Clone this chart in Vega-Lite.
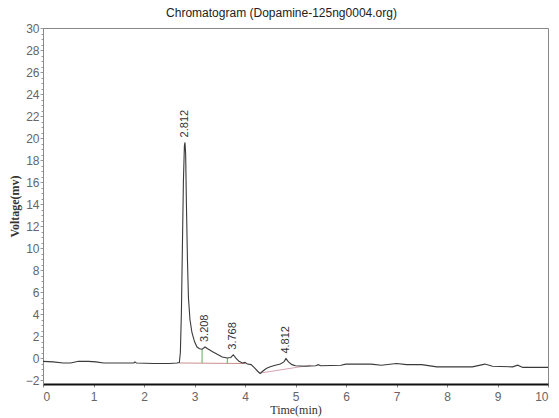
{
  "$schema": "https://vega.github.io/schema/vega-lite/v6.json",
  "autosize": "none",
  "width": 505,
  "height": 356,
  "padding": {"left": 43, "top": 28, "right": 11, "bottom": 34},
  "background": "white",
  "config": {
    "view": {"stroke": "#888888", "strokeWidth": 1},
    "font": "Liberation Sans"
  },
  "title": {
    "text": "Chromatogram (Dopamine-125ng0004.org)",
    "fontSize": 12,
    "fontWeight": "normal",
    "color": "#222222",
    "font": "Liberation Sans",
    "anchor": "middle",
    "dx": -14,
    "offset": 2
  },
  "datasets": {
    "signal": [
      {"t": 0, "v": -0.3}, {"t": 0.2, "v": -0.35}, {"t": 0.4, "v": -0.45}, {"t": 0.55, "v": -0.45},
      {"t": 0.7, "v": -0.3}, {"t": 0.9, "v": -0.3}, {"t": 1.05, "v": -0.35}, {"t": 1.2, "v": -0.45},
      {"t": 1.5, "v": -0.45}, {"t": 1.8, "v": -0.45}, {"t": 1.82, "v": -0.35}, {"t": 1.85, "v": -0.45},
      {"t": 2.2, "v": -0.5}, {"t": 2.5, "v": -0.5}, {"t": 2.65, "v": -0.45}, {"t": 2.7, "v": -0.4},
      {"t": 2.72, "v": 0.5}, {"t": 2.74, "v": 4}, {"t": 2.76, "v": 10}, {"t": 2.78, "v": 16},
      {"t": 2.8, "v": 19.3}, {"t": 2.812, "v": 19.6}, {"t": 2.825, "v": 18.5}, {"t": 2.84, "v": 14},
      {"t": 2.86, "v": 9}, {"t": 2.88, "v": 5.5}, {"t": 2.91, "v": 3.5}, {"t": 2.95, "v": 2.3},
      {"t": 3.0, "v": 1.5}, {"t": 3.05, "v": 1.0}, {"t": 3.1, "v": 0.85}, {"t": 3.15, "v": 0.8},
      {"t": 3.208, "v": 1.0}, {"t": 3.26, "v": 0.85}, {"t": 3.35, "v": 0.6}, {"t": 3.45, "v": 0.35},
      {"t": 3.55, "v": 0.1}, {"t": 3.65, "v": 0.0}, {"t": 3.72, "v": 0.05}, {"t": 3.768, "v": 0.3},
      {"t": 3.82, "v": 0.0}, {"t": 3.88, "v": -0.3}, {"t": 3.95, "v": -0.45}, {"t": 4.0, "v": -0.4},
      {"t": 4.05, "v": -0.55}, {"t": 4.12, "v": -0.6}, {"t": 4.18, "v": -0.85}, {"t": 4.25, "v": -1.2},
      {"t": 4.3, "v": -1.4}, {"t": 4.35, "v": -1.2}, {"t": 4.42, "v": -0.95}, {"t": 4.5, "v": -0.8},
      {"t": 4.6, "v": -0.65}, {"t": 4.7, "v": -0.55}, {"t": 4.77, "v": -0.35}, {"t": 4.812, "v": -0.05},
      {"t": 4.86, "v": -0.35}, {"t": 4.93, "v": -0.6}, {"t": 5.0, "v": -0.7}, {"t": 5.2, "v": -0.75},
      {"t": 5.4, "v": -0.7}, {"t": 5.45, "v": -0.6}, {"t": 5.5, "v": -0.7}, {"t": 5.9, "v": -0.65},
      {"t": 6.0, "v": -0.55}, {"t": 6.5, "v": -0.55}, {"t": 6.7, "v": -0.65}, {"t": 7.0, "v": -0.5},
      {"t": 7.2, "v": -0.6}, {"t": 7.5, "v": -0.6}, {"t": 7.8, "v": -0.8}, {"t": 8.5, "v": -0.8},
      {"t": 8.75, "v": -0.55}, {"t": 8.9, "v": -0.75}, {"t": 9.3, "v": -0.8}, {"t": 9.4, "v": -0.65},
      {"t": 9.5, "v": -0.85}, {"t": 10, "v": -0.85}
    ],
    "baselines": [
      {"t1": 2.7, "v1": -0.45, "t2": 4.0, "v2": -0.5, "kind": "a"},
      {"t1": 4.32, "v1": -1.35, "t2": 5.3, "v2": -0.65, "kind": "b"}
    ],
    "marks": [
      {"t": 3.15, "lo": -0.45, "hi": 0.8},
      {"t": 3.65, "lo": -0.48, "hi": 0.0}
    ],
    "peaks": [
      {"t": 2.812, "v": 19.6, "label": "2.812"},
      {"t": 3.208, "v": 1.0, "label": "3.208"},
      {"t": 3.768, "v": 0.3, "label": "3.768"},
      {"t": 4.812, "v": -0.05, "label": "4.812"}
    ]
  },
  "resolve": {"axis": {"y": "independent"}},
  "layer": [
    {
      "data": {"name": "baselines"},
      "mark": {"type": "rule", "strokeWidth": 1},
      "encoding": {
        "x": {"field": "t1", "type": "quantitative", "scale": {"domain": [0, 10], "nice": false}},
        "y": {
          "field": "v1", "type": "quantitative",
          "scale": {"domain": [-2.36, 30], "nice": false, "zero": false},
          "axis": {
            "orient": "left",
            "values": [-1.5, -1, -0.5, 0.5, 1, 1.5, 2.5, 3, 3.5, 4.5, 5, 5.5, 6.5, 7, 7.5, 8.5, 9, 9.5, 10.5, 11, 11.5, 12.5, 13, 13.5, 14.5, 15, 15.5, 16.5, 17, 17.5, 18.5, 19, 19.5, 20.5, 21, 21.5, 22.5, 23, 23.5, 24.5, 25, 25.5, 26.5, 27, 27.5, 28.5, 29, 29.5],
            "labels": false,
            "title": null,
            "domain": false,
            "tickColor": "#999999",
            "tickSize": 2,
            "grid": false
          }
        },
        "x2": {"field": "t2"},
        "y2": {"field": "v2"},
        "color": {"field": "kind", "type": "nominal", "scale": {"domain": ["a", "b"], "range": ["#c98f8f", "#d4a3b5"]}, "legend": null}
      }
    },
    {
      "data": {"name": "marks"},
      "mark": {"type": "rule", "strokeWidth": 1, "color": "#5fae5f"},
      "encoding": {
        "x": {"field": "t", "type": "quantitative"},
        "y": {"field": "lo", "type": "quantitative", "axis": null},
        "y2": {"field": "hi"}
      }
    },
    {
      "data": {"name": "signal"},
      "mark": {"type": "line", "color": "#3a3a3a", "strokeWidth": 1.1},
      "encoding": {
        "x": {
          "field": "t", "type": "quantitative",
          "scale": {"domain": [0, 10], "nice": false},
          "axis": {
            "values": [0, 1, 2, 3, 4, 5, 6, 7, 8, 9, 10],
            "title": "Time(min)",
            "titleFont": "Liberation Serif",
            "titleFontSize": 12,
            "titleFontWeight": "normal",
            "titleColor": "#333333",
            "titlePadding": 2,
            "labelFont": "Liberation Sans",
            "labelFontSize": 12,
            "labelColor": "#666666",
            "labelPadding": 4,
            "domainColor": "#111111",
            "domainWidth": 2,
            "tickColor": "#888888",
            "tickSize": 3,
            "grid": false
          }
        },
        "y": {
          "field": "v", "type": "quantitative",
          "axis": {
            "orient": "left",
            "values": [-2, 0, 2, 4, 6, 8, 10, 12, 14, 16, 18, 20, 22, 24, 26, 28, 30],
            "title": "Voltage(mv)",
            "titleFont": "Liberation Serif",
            "titleFontSize": 12,
            "titleFontWeight": "bold",
            "titleColor": "#333333",
            "titlePadding": 4,
            "labelFont": "Liberation Sans",
            "labelFontSize": 12,
            "labelColor": "#666666",
            "labelPadding": 1,
            "labelOverlap": false,
            "domainColor": "#888888",
            "tickColor": "#999999",
            "tickSize": 3,
            "grid": false
          }
        }
      }
    },
    {
      "data": {"name": "peaks"},
      "mark": {"type": "text", "angle": 270, "align": "left", "baseline": "middle", "dx": 5, "fontSize": 11, "font": "Liberation Sans", "color": "#333333"},
      "encoding": {
        "x": {"field": "t", "type": "quantitative"},
        "y": {"field": "v", "type": "quantitative", "axis": null},
        "text": {"field": "label"}
      }
    }
  ]
}
